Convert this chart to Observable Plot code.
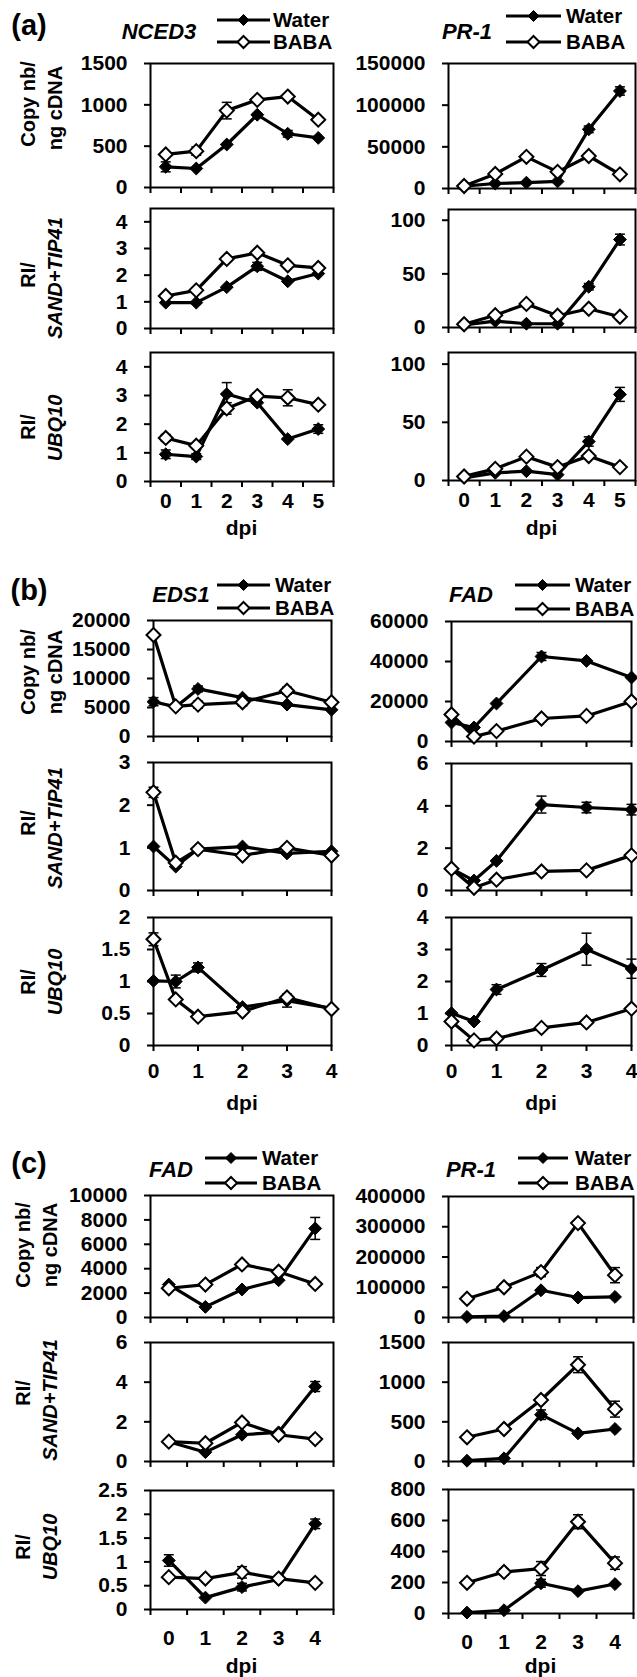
<!DOCTYPE html>
<html><head><meta charset="utf-8">
<script src="https://cdn.jsdelivr.net/npm/d3@7"></script>
<script src="https://cdn.jsdelivr.net/npm/@observablehq/plot@0.6"></script>
<style>
body{margin:0;background:#fff;}
#fig{position:relative;width:637px;height:1677px;background:#fff;font-family:"Liberation Sans",Arial,sans-serif;font-weight:bold;color:#000;overflow:hidden}
.t{position:absolute;white-space:nowrap;transform:translate(-50%,-50%);line-height:1}
.r{position:absolute;white-space:nowrap;transform:translate(-50%,-50%) rotate(-90deg);line-height:1}
</style></head><body><div id="fig"></div><script>
// ---------- x values (dpi) ----------
const dpiA = [0, 1, 2, 3, 4, 5];
const dpiB = [0, 0.5, 1, 2, 3, 4];
const dpiC = [0, 1, 2, 3, 4];

// ---------- (a) NCED3 ----------
const aNcedCopyWater = [250, 230, 520, 880, 650, 600];
const aNcedCopyWaterErr = [60, 0, 0, 0, 40, 0];
const aNcedCopyBaba = [400, 440, 930, 1060, 1100, 820];
const aNcedCopyBabaErr = [0, 50, 100, 0, 0, 0];
const aNcedSandWater = [0.97, 0.97, 1.55, 2.33, 1.77, 2.06];
const aNcedSandWaterErr = [0, 0, 0, 0.15, 0, 0];
const aNcedSandBaba = [1.22, 1.43, 2.61, 2.84, 2.37, 2.27];
const aNcedSandBabaErr = [0, 0, 0, 0, 0, 0];
const aNcedUbqWater = [0.95, 0.87, 3.05, 2.75, 1.48, 1.83];
const aNcedUbqWaterErr = [0.15, 0.1, 0.4, 0, 0, 0.15];
const aNcedUbqBaba = [1.52, 1.25, 2.55, 2.98, 2.92, 2.68];
const aNcedUbqBabaErr = [0.12, 0, 0.2, 0.1, 0.28, 0];

// ---------- (a) PR-1 ----------
const aPrCopyWater = [2800, 6000, 7000, 8500, 71000, 117000];
const aPrCopyWaterErr = [0, 0, 0, 0, 4000, 5000];
const aPrCopyBaba = [3000, 17500, 38000, 20000, 39000, 17000];
const aPrCopyBabaErr = [0, 2000, 3000, 2000, 3000, 3000];
const aPrSandWater = [2.5, 6, 3.5, 3.5, 38, 82];
const aPrSandWaterErr = [0, 0, 0, 0, 3, 5];
const aPrSandBaba = [3, 11.5, 22, 11, 17.5, 10];
const aPrSandBabaErr = [0, 0, 0, 0, 0, 0];
const aPrUbqWater = [2.3, 6.5, 8, 5, 33.5, 74];
const aPrUbqWaterErr = [0, 0, 0, 0, 4, 6];
const aPrUbqBaba = [3.5, 10, 20.5, 11.5, 21, 11.5];
const aPrUbqBabaErr = [0, 0, 0, 0, 0, 0];

// ---------- (b) EDS1 ----------
const bEdsCopyWater = [6000, 5100, 8200, 6700, 5500, 4600];
const bEdsCopyWaterErr = [700, 0, 500, 0, 0, 0];
const bEdsCopyBaba = [17500, 5200, 5500, 5900, 7900, 5900];
const bEdsCopyBabaErr = [0, 0, 600, 600, 600, 0];
const bEdsSandWater = [1.03, 0.56, 0.97, 1.03, 0.87, 0.92];
const bEdsSandWaterErr = [0, 0, 0, 0, 0, 0];
const bEdsSandBaba = [2.3, 0.65, 0.97, 0.82, 1.0, 0.82];
const bEdsSandBabaErr = [0.12, 0, 0, 0, 0, 0];
const bEdsUbqWater = [1.01, 1.0, 1.22, 0.6, 0.7, 0.58];
const bEdsUbqWaterErr = [0, 0.1, 0.07, 0, 0.1, 0];
const bEdsUbqBaba = [1.66, 0.72, 0.45, 0.53, 0.75, 0.57];
const bEdsUbqBabaErr = [0.1, 0, 0, 0, 0.05, 0];

// ---------- (b) FAD ----------
const bFadCopyWater = [9500, 7000, 19000, 42500, 40300, 32000];
const bFadCopyWaterErr = [0, 0, 0, 2000, 0, 0];
const bFadCopyBaba = [13500, 2500, 5200, 11500, 12800, 20000];
const bFadCopyBabaErr = [0, 0, 0, 0, 0, 0];
const bFadSandWater = [1.03, 0.47, 1.4, 4.06, 3.92, 3.82];
const bFadSandWaterErr = [0, 0, 0, 0.4, 0.25, 0.25];
const bFadSandBaba = [1.03, 0.13, 0.51, 0.9, 0.95, 1.66];
const bFadSandBabaErr = [0, 0, 0, 0, 0, 0];
const bFadUbqWater = [1.01, 0.75, 1.75, 2.36, 3.01, 2.4];
const bFadUbqWaterErr = [0, 0, 0.15, 0.2, 0.5, 0.3];
const bFadUbqBaba = [0.75, 0.16, 0.22, 0.55, 0.72, 1.15];
const bFadUbqBabaErr = [0, 0, 0, 0, 0, 0];

// ---------- (c) FAD ----------
const cFadCopyWater = [2700, 870, 2300, 3050, 7300];
const cFadCopyWaterErr = [0, 0, 0, 0, 900];
const cFadCopyBaba = [2400, 2700, 4350, 3750, 2750];
const cFadCopyBabaErr = [0, 0, 0, 0, 0];
const cFadSandWater = [1.0, 0.47, 1.35, 1.47, 3.78];
const cFadSandWaterErr = [0, 0, 0, 0, 0.25];
const cFadSandBaba = [1.0, 0.92, 1.97, 1.35, 1.13];
const cFadSandBabaErr = [0, 0, 0, 0, 0];
const cFadUbqWater = [1.03, 0.25, 0.47, 0.63, 1.8];
const cFadUbqWaterErr = [0.12, 0, 0.08, 0, 0.1];
const cFadUbqBaba = [0.68, 0.65, 0.78, 0.65, 0.56];
const cFadUbqBabaErr = [0, 0, 0.12, 0, 0];

// ---------- (c) PR-1 ----------
const cPrCopyWater = [2000, 4500, 90000, 66000, 68000];
const cPrCopyWaterErr = [0, 0, 0, 0, 0];
const cPrCopyBaba = [62000, 100000, 150000, 312000, 140000];
const cPrCopyBabaErr = [0, 10000, 15000, 0, 25000];
const cPrSandWater = [10, 40, 590, 355, 410];
const cPrSandWaterErr = [0, 0, 60, 0, 0];
const cPrSandBaba = [305, 410, 775, 1220, 660];
const cPrSandBabaErr = [0, 30, 0, 100, 100];
const cPrUbqWater = [6, 21, 195, 144, 190];
const cPrUbqWaterErr = [0, 0, 25, 0, 0];
const cPrUbqBaba = [198, 268, 290, 592, 325];
const cPrUbqBabaErr = [0, 20, 45, 45, 40];

// ---------- tick labels ----------
const ticksA1L = [0, 500, 1000, 1500];
const ticksA2L = [0, 1, 2, 3, 4];
const ticksA3L = [0, 1, 2, 3, 4];
const ticksA1R = [0, 50000, 100000, 150000];
const ticksA2R = [0, 50, 100];
const ticksA3R = [0, 50, 100];
const ticksB1L = [0, 5000, 10000, 15000, 20000];
const ticksB2L = [0, 1, 2, 3];
const ticksB3L = [0, 0.5, 1, 1.5, 2];
const ticksB1R = [0, 20000, 40000, 60000];
const ticksB2R = [0, 2, 4, 6];
const ticksB3R = [0, 1, 2, 3, 4];
const ticksC1L = [0, 2000, 4000, 6000, 8000, 10000];
const ticksC2L = [0, 2, 4, 6];
const ticksC3L = [0, 0.5, 1, 1.5, 2, 2.5];
const ticksC1R = [0, 100000, 200000, 300000, 400000];
const ticksC2R = [0, 500, 1000, 1500];
const ticksC3R = [0, 200, 400, 600, 800];
const xLabelsA = [0, 1, 2, 3, 4, 5];
const xLabelsB = [0, 1, 2, 3, 4];
const xLabelsC = [0, 1, 2, 3, 4];
const xBoundsA = [-0.5, 0.5, 1.5, 2.5, 3.5, 4.5, 5.5];
const xBoundsB = [0, 1, 2, 3, 4];
const xBoundsC = [-0.5, 0.5, 1.5, 2.5, 3.5, 4.5];

const sections = ["(a)", "(b)", "(c)"];
const genes = [["NCED3", "PR-1"], ["EDS1", "FAD"], ["FAD", "PR-1"]];

// ---------- layout (pixels) ----------
const L = {
  a: {label: 25, title: 32, legW: [20, 16], legB: [42, 42], xlab: 12, dpi: 527,
      colX: [[150, 333], [448, 635]],
      rows: [[[63, 187], [208, 328], [352, 481]], [[63, 188], [209, 327], [352, 480]]],
      rowLab: [[28, 55, 104, 108], [28, 55, 275, 278], [28, 55, 427, 428]],
      titleX: [159, 467], leg: [[217, 270, 273], [506, 561, 566]]},
  b: {label: 590, title: 595, legW: [585, 585], legB: [608, 609], xlab: 17.5, dpi: 1102,
      colX: [[153, 331], [451, 631]],
      rows: [[[620, 736], [762, 890], [917, 1045]], [[621, 741], [763, 890], [917, 1045]]],
      rowLab: [[28, 55, 672, 672], [28, 55, 823, 828], [28, 55, 982, 982]],
      titleX: [181, 471], leg: [[217, 270, 275], [515, 570, 575]]},
  c: {label: 1163, title: 1170, legW: [1158, 1158], legB: [1183, 1183], xlab: 20.5, dpi: 1665,
      colX: [[150, 333], [448, 633]],
      rows: [[[1195, 1317], [1342, 1461], [1490, 1609]], [[1196, 1317], [1342, 1461], [1489, 1613]]],
      rowLab: [[23, 50, 1245, 1245], [23, 50, 1393, 1400], [23, 50, 1547, 1547]],
      titleX: [171, 471], leg: [[205, 257, 262], [518, 568, 575]]}
};

const fig = document.getElementById("fig");
function addText(txt, x, y, size, cls = "t", italic = false) {
  const d = document.createElement("div");
  d.className = cls;
  d.style.left = x + "px"; d.style.top = y + "px"; d.style.fontSize = size + "px";
  if (italic) d.style.fontStyle = "italic";
  d.innerHTML = txt;
  fig.appendChild(d);
}

const cap = {draw(ctx) { ctx.moveTo(-5, 0); ctx.lineTo(5, 0); }};

function panel(col, frame, colX, xDomain, xs, xBounds, xLabels, xlab, yDomain, yTicks, water, waterErr, baba, babaErr, bottom) {
  const [x0, x1] = colX, [y0, y1] = frame;
  const svgLeft = col === 0 ? 0 : 330;
  const svgWidth = col === 0 ? 345 : 307;
  const mt = 14, mb = bottom ? 45 : 10;
  const rows = xs.map((x, i) => ({x, w: water[i], b: baba[i], we: waterErr[i] || 0, be: babaErr[i] || 0}));
  const wE = rows.filter(d => d.we > 0), bE = rows.filter(d => d.be > 0);
  const errMarks = (E, v, e) => [
    Plot.ruleX(E, {x: "x", y1: d => d[v] - d[e], y2: d => d[v] + d[e], stroke: "#000", strokeWidth: 1.5}),
    Plot.dot(E, {x: "x", y: d => d[v] + d[e], symbol: cap, fill: "none", stroke: "#000", strokeWidth: 1.5}),
    Plot.dot(E, {x: "x", y: d => Math.max(yDomain[0], d[v] - d[e]), symbol: cap, fill: "none", stroke: "#000", strokeWidth: 1.5})
  ];
  const marks = [
    Plot.frame({stroke: "#000", strokeWidth: 2}),
    Plot.axisY(yTicks, {tickSize: 6, tickPadding: 17, tickFormat: d => String(d), fontSize: 21, fontWeight: "bold", strokeWidth: 2, label: null}),
    Plot.axisX(xBounds, {tickSize: 6, tickFormat: () => "", strokeWidth: 2, label: null}),
    bottom ? Plot.axisX(xLabels, {tickSize: 0, tickPadding: xlab, tickFormat: d => String(d), fontSize: 21, fontWeight: "bold", label: null}) : null,
    Plot.line(rows, {x: "x", y: "w", stroke: "#000", strokeWidth: 3.2}),
    ...errMarks(wE, "w", "we"),
    Plot.dot(rows, {x: "x", y: "w", symbol: "diamond2", r: 5.8, fill: "#000", stroke: "#000", strokeWidth: 1}),
    Plot.line(rows, {x: "x", y: "b", stroke: "#000", strokeWidth: 3.2}),
    ...errMarks(bE, "b", "be"),
    Plot.dot(rows, {x: "x", y: "b", symbol: "diamond2", r: 6.3, fill: "#fff", stroke: "#000", strokeWidth: 2})
  ];
  const svg = Plot.plot({
    width: svgWidth, height: y1 - y0 + mt + mb,
    marginTop: mt, marginBottom: mb, marginLeft: x0 - svgLeft, marginRight: svgWidth - (x1 - svgLeft),
    x: {type: "linear", domain: xDomain}, y: {type: "linear", domain: yDomain},
    style: {background: "transparent", overflow: "visible", fontFamily: "'Liberation Sans', Arial, sans-serif", fontWeight: "bold", color: "#000"},
    marks
  });
  svg.style.position = "absolute";
  svg.style.left = svgLeft + "px";
  svg.style.top = (y0 - mt) + "px";
  fig.appendChild(svg);
}

// panel definitions built from the arrays above
const defs = [
  {key: "a", xDomain: [-0.5, 5.5], xs: dpiA, xBounds: xBoundsA, xLabels: xLabelsA, cols: [
    [[[0, 1500], ticksA1L, aNcedCopyWater, aNcedCopyWaterErr, aNcedCopyBaba, aNcedCopyBabaErr],
     [[0, 4.5], ticksA2L, aNcedSandWater, aNcedSandWaterErr, aNcedSandBaba, aNcedSandBabaErr],
     [[0, 4.5], ticksA3L, aNcedUbqWater, aNcedUbqWaterErr, aNcedUbqBaba, aNcedUbqBabaErr]],
    [[[0, 150000], ticksA1R, aPrCopyWater, aPrCopyWaterErr, aPrCopyBaba, aPrCopyBabaErr],
     [[0, 110], ticksA2R, aPrSandWater, aPrSandWaterErr, aPrSandBaba, aPrSandBabaErr],
     [[0, 110], ticksA3R, aPrUbqWater, aPrUbqWaterErr, aPrUbqBaba, aPrUbqBabaErr]]]},
  {key: "b", xDomain: [0, 4], xs: dpiB, xBounds: xBoundsB, xLabels: xLabelsB, cols: [
    [[[0, 20000], ticksB1L, bEdsCopyWater, bEdsCopyWaterErr, bEdsCopyBaba, bEdsCopyBabaErr],
     [[0, 3], ticksB2L, bEdsSandWater, bEdsSandWaterErr, bEdsSandBaba, bEdsSandBabaErr],
     [[0, 2], ticksB3L, bEdsUbqWater, bEdsUbqWaterErr, bEdsUbqBaba, bEdsUbqBabaErr]],
    [[[0, 60000], ticksB1R, bFadCopyWater, bFadCopyWaterErr, bFadCopyBaba, bFadCopyBabaErr],
     [[0, 6], ticksB2R, bFadSandWater, bFadSandWaterErr, bFadSandBaba, bFadSandBabaErr],
     [[0, 4], ticksB3R, bFadUbqWater, bFadUbqWaterErr, bFadUbqBaba, bFadUbqBabaErr]]]},
  {key: "c", xDomain: [-0.5, 4.5], xs: dpiC, xBounds: xBoundsC, xLabels: xLabelsC, cols: [
    [[[0, 10000], ticksC1L, cFadCopyWater, cFadCopyWaterErr, cFadCopyBaba, cFadCopyBabaErr],
     [[0, 6], ticksC2L, cFadSandWater, cFadSandWaterErr, cFadSandBaba, cFadSandBabaErr],
     [[0, 2.5], ticksC3L, cFadUbqWater, cFadUbqWaterErr, cFadUbqBaba, cFadUbqBabaErr]],
    [[[0, 400000], ticksC1R, cPrCopyWater, cPrCopyWaterErr, cPrCopyBaba, cPrCopyBabaErr],
     [[0, 1500], ticksC2R, cPrSandWater, cPrSandWaterErr, cPrSandBaba, cPrSandBabaErr],
     [[0, 800], ticksC3R, cPrUbqWater, cPrUbqWaterErr, cPrUbqBaba, cPrUbqBabaErr]]]}
];

const rowTitles = [["Copy nb/", "ng cDNA", false], ["RI/", "SAND+TIP41", true], ["RI/", "UBQ10", true]];

defs.forEach((s, si) => {
  const lay = L[s.key];
  s.cols.forEach((colRows, ci) => {
    colRows.forEach((r, ri) => {
      panel(ci, lay.rows[ci][ri], lay.colX[ci], s.xDomain, s.xs, s.xBounds, s.xLabels, lay.xlab,
            r[0], r[1], r[2], r[3], r[4], r[5], ri === 2);
    });
    addText(genes[si][ci], lay.titleX[ci], lay.title, 22, "t", true);
    addText("dpi", (lay.colX[ci][0] + lay.colX[ci][1]) / 2, lay.dpi, 21);
  });
  addText(sections[si], 29, lay.label, 29);
  lay.rowLab.forEach((rl, ri) => {
    addText(rowTitles[ri][0], rl[0], rl[2], 20, "r", false);
    addText(rowTitles[ri][1], rl[1], rl[3], 20, "r", rowTitles[ri][2]);
  });
});

// legends
const NS = "http://www.w3.org/2000/svg";
const leg = document.createElementNS(NS, "svg");
leg.setAttribute("width", 637); leg.setAttribute("height", 1677);
leg.style.position = "absolute"; leg.style.left = "0"; leg.style.top = "0";
function el(tag, attrs) { const e = document.createElementNS(NS, tag); for (const k in attrs) e.setAttribute(k, attrs[k]); leg.appendChild(e); return e; }
defs.forEach(s => {
  const lay = L[s.key];
  lay.leg.forEach((lg, ci) => {
    const [a, b, tx] = lg;
    [["Water", lay.legW[ci], "#000", 5.5], ["BABA", lay.legB[ci], "#fff", 6]].forEach(([name, y, fill, h]) => {
      el("line", {x1: a, x2: b, y1: y, y2: y, stroke: "#000", "stroke-width": 3});
      const m = (a + b) / 2;
      el("path", {d: `M${m},${y - h}L${m + h},${y}L${m},${y + h}L${m - h},${y}Z`, fill, stroke: "#000", "stroke-width": fill === "#fff" ? 2 : 1});
      const t = el("text", {x: tx, y: y, "font-size": 20.5, "font-weight": "bold", "font-family": "'Liberation Sans', Arial, sans-serif", dy: "0.35em"});
      t.textContent = name;
    });
  });
});
fig.appendChild(leg);
</script></body></html>
